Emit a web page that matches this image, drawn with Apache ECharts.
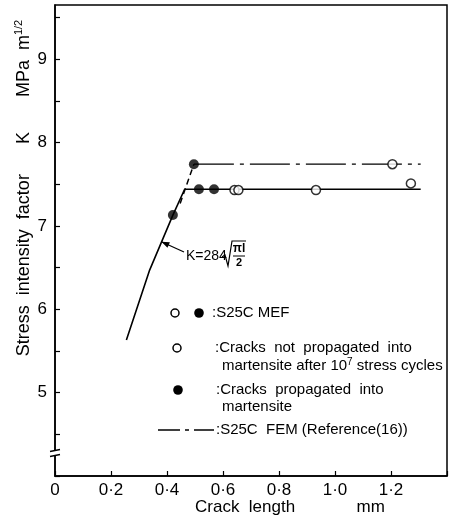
<!DOCTYPE html>
<html>
<head>
<meta charset="utf-8">
<script src="https://cdn.jsdelivr.net/npm/echarts@6/dist/echarts.min.js"></script>
<style>
html, body { margin: 0; padding: 0; background: #fff; }
#chart { width: 450px; height: 522px; }
</style>
</head>
<body>
<div id="chart"></div>
<script>
var FONT = "Liberation Sans";

// tick labels
var xTicks = [0, 0.2, 0.4, 0.6, 0.8, 1.0, 1.2];
var yTicks = [5, 6, 7, 8, 9];

// K=284 sqrt(pi l / 2) curve, then the flat MEF run
var kLine = [[0.255, 5.63], [0.338, 6.47], [0.421, 7.13], [0.463, 7.44], [1.306, 7.44]];
// S25C FEM: short dashed rise, then dash-dot run
var femRise = [[0.447, 7.27], [0.496, 7.74]];
var femFlat = [[0.496, 7.74], [1.306, 7.74]];
// open circles: not propagated into martensite
var openPts = [[0.641, 7.43], [0.655, 7.43], [0.932, 7.43], [1.205, 7.74], [1.271, 7.51]];
// filled circles: propagated into martensite
var filledPts = [[0.421, 7.13], [0.496, 7.74], [0.514, 7.44], [0.568, 7.44]];

var myChart = echarts.init(document.getElementById("chart"));

var option = {
  animation: false,
  backgroundColor: "#fff",
  grid: {
    left: 55,
    right: 2,
    top: 5,
    bottom: 46,
    show: true,
    borderColor: "#000",
    borderWidth: 1.5
  },
  xAxis: {
    type: "value",
    min: 0,
    max: 1.4,
    interval: 0.2,
    axisLine: { lineStyle: { color: "#000", width: 1.5 } },
    axisTick: { inside: true, length: 5, lineStyle: { color: "#000", width: 1.2 } },
    splitLine: { show: false },
    axisLabel: {
      color: "#000",
      fontFamily: FONT,
      fontSize: 17,
      margin: 6,
      formatter: function (v) {
        for (var i = 0; i < xTicks.length; i++) {
          if (Math.abs(xTicks[i] - v) < 1e-6) {
            return v === 0 ? "0" : v.toFixed(1).replace(".", "·");
          }
        }
        return "";
      }
    }
  },
  yAxis: {
    type: "value",
    min: 4,
    max: 9.65,
    interval: 0.5,
    axisLine: { lineStyle: { color: "#000", width: 1.5 } },
    axisTick: { inside: true, length: 5, lineStyle: { color: "#000", width: 1.2 } },
    splitLine: { show: false },
    axisLabel: {
      color: "#000",
      fontFamily: FONT,
      fontSize: 17,
      margin: 8,
      showMaxLabel: false,
      formatter: function (v) {
        return yTicks.indexOf(v) >= 0 ? String(v) : "";
      }
    }
  },
  series: [
    {
      name: "K curve",
      type: "line",
      data: kLine,
      showSymbol: false,
      lineStyle: { color: "#000", width: 1.6 },
      z: 2
    },
    {
      name: "S25C FEM rise",
      type: "line",
      data: femRise,
      showSymbol: false,
      lineStyle: { color: "#000", width: 1.5, type: [6, 4] },
      z: 2
    },
    {
      name: "S25C FEM",
      type: "line",
      data: femFlat,
      showSymbol: false,
      lineStyle: { color: "#000", width: 1.3, type: [40, 6, 4, 6] },
      z: 2
    },
    {
      name: "not propagated",
      type: "scatter",
      data: openPts,
      symbol: "circle",
      symbolSize: 9,
      itemStyle: { color: "#fff", borderColor: "#000", borderWidth: 1.5 },
      z: 3
    },
    {
      name: "propagated",
      type: "scatter",
      data: filledPts,
      symbol: "circle",
      symbolSize: 10,
      itemStyle: { color: "#000" },
      z: 4
    }
  ]
};
myChart.setOption(option);

// annotations, legend block, axis titles
var tip = myChart.convertToPixel({ gridIndex: 0 }, [0.38, 6.81]);
var brk = myChart.convertToPixel({ gridIndex: 0 }, [0, 4.27]);
var ax = 184, ay = 252;
var ang = Math.atan2(tip[1] - ay, tip[0] - ax);
var hl = 8, hw = 3;
var head = [
  [tip[0], tip[1]],
  [tip[0] - hl * Math.cos(ang) + hw * Math.sin(ang), tip[1] - hl * Math.sin(ang) - hw * Math.cos(ang)],
  [tip[0] - hl * Math.cos(ang) - hw * Math.sin(ang), tip[1] - hl * Math.sin(ang) + hw * Math.cos(ang)]
];
var txt = { fill: "#000", font: "15px " + FONT };

var graphics = [
  // y axis title
  {
    type: "text", x: 24, y: 188, rotation: Math.PI / 2,
    style: {
      text: "{a|Stress  intensity  factor      K       MPa  m}{s|1/2}",
      textAlign: "center", textVerticalAlign: "middle",
      rich: {
        a: { fontSize: 18, fontFamily: FONT, fill: "#000", lineHeight: 22 },
        s: { fontSize: 11, fontFamily: FONT, fill: "#000", verticalAlign: "top" }
      }
    }
  },
  // x axis title
  {
    type: "text", x: 195, y: 507,
    style: { text: "Crack  length             mm", fill: "#000", font: "17px " + FONT, textVerticalAlign: "middle" }
  },
  // arrow + formula
  { type: "line", shape: { x1: ax, y1: ay, x2: tip[0], y2: tip[1] }, style: { stroke: "#000", lineWidth: 1.2 } },
  { type: "polygon", shape: { points: head }, style: { fill: "#000" } },
  { type: "text", x: 186, y: 256, style: { text: "K=284", fill: "#000", font: "14px " + FONT, textVerticalAlign: "middle" } },
  { type: "polyline", shape: { points: [[222, 257], [225, 255], [228, 266], [232, 241], [246, 241]] }, style: { stroke: "#000", lineWidth: 1.2, fill: null } },
  { type: "text", x: 239, y: 249, style: { text: "πl", fill: "#000", font: "bold 12px " + FONT, textAlign: "center", textVerticalAlign: "middle" } },
  { type: "line", shape: { x1: 233, y1: 256, x2: 245, y2: 256 }, style: { stroke: "#000", lineWidth: 1 } },
  { type: "text", x: 239, y: 263, style: { text: "2", fill: "#000", font: "bold 11px " + FONT, textAlign: "center", textVerticalAlign: "middle" } },
  // legend row 1
  { type: "circle", shape: { cx: 175, cy: 313, r: 4 }, style: { fill: "#fff", stroke: "#000", lineWidth: 1.5 } },
  { type: "circle", shape: { cx: 199, cy: 313, r: 4.8 }, style: { fill: "#000" } },
  { type: "text", x: 212, y: 313, style: Object.assign({ text: ":S25C MEF", textVerticalAlign: "middle" }, txt) },
  // legend row 2
  { type: "circle", shape: { cx: 177, cy: 348, r: 4 }, style: { fill: "#fff", stroke: "#000", lineWidth: 1.5 } },
  { type: "text", x: 215, y: 348, style: Object.assign({ text: ":Cracks  not  propagated  into", textVerticalAlign: "middle" }, txt) },
  {
    type: "text", x: 222, y: 366,
    style: {
      text: "{a|martensite after 10}{s|7}{a| stress cycles}",
      textVerticalAlign: "middle",
      rich: {
        a: { fontSize: 15, fontFamily: FONT, fill: "#000", lineHeight: 18 },
        s: { fontSize: 10, fontFamily: FONT, fill: "#000", verticalAlign: "top" }
      }
    }
  },
  // legend row 3
  { type: "circle", shape: { cx: 178, cy: 390, r: 4.8 }, style: { fill: "#000" } },
  { type: "text", x: 216, y: 390, style: Object.assign({ text: ":Cracks  propagated  into", textVerticalAlign: "middle" }, txt) },
  { type: "text", x: 222, y: 407, style: Object.assign({ text: "martensite", textVerticalAlign: "middle" }, txt) },
  // legend row 4
  { type: "line", shape: { x1: 158, y1: 430, x2: 214, y2: 430 }, style: { stroke: "#000", lineWidth: 1.3, lineDash: [22, 5, 4, 5] } },
  { type: "text", x: 216, y: 430, style: Object.assign({ text: ":S25C  FEM (Reference(16))", textVerticalAlign: "middle" }, txt) },
  // axis break mark
  { type: "rect", shape: { x: brk[0] - 5, y: brk[1] - 2.5, width: 10, height: 5 }, style: { fill: "#fff" }, z: 10 },
  { type: "line", shape: { x1: brk[0] - 5, y1: brk[1] - 2, x2: brk[0] + 5, y2: brk[1] - 4 }, style: { stroke: "#000", lineWidth: 1.3 }, z: 11 },
  { type: "line", shape: { x1: brk[0] - 5, y1: brk[1] + 3, x2: brk[0] + 5, y2: brk[1] + 1 }, style: { stroke: "#000", lineWidth: 1.3 }, z: 11 }
];
myChart.setOption({ graphic: graphics });

window.addEventListener("resize", function () {
  myChart.resize();
});
</script>
</body>
</html>
